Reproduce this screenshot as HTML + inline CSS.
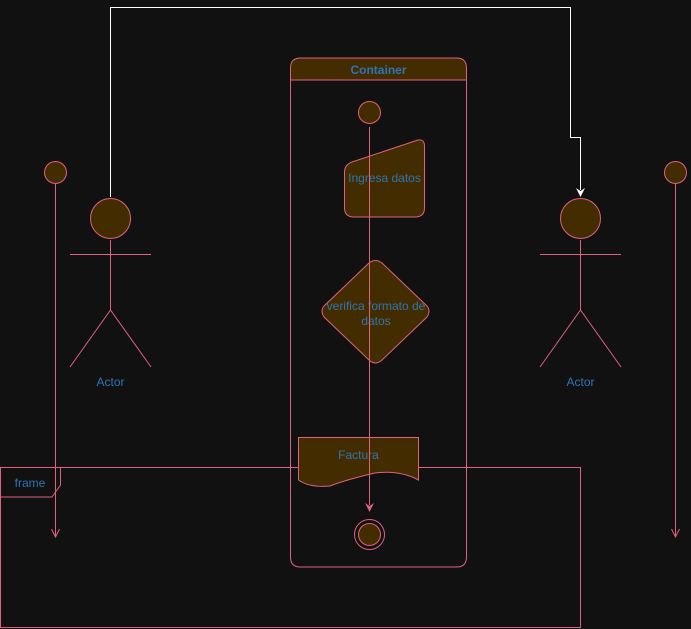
<!DOCTYPE html>
<html><head><meta charset="utf-8"><style>
html,body{margin:0;padding:0;background:#111111;}
svg{display:block;font-family:"Liberation Sans",Arial,sans-serif;}
</style></head><body>
<svg width="691" height="629" viewBox="0 0 691 629">
<defs>
<marker id="arrW" markerWidth="10" markerHeight="10" refX="5" refY="8" orient="auto-start-reverse" markerUnits="userSpaceOnUse"><path d="M1,1 L5,9 L9,1 L5,3 Z" fill="#ffffff"/></marker>
</defs>
<rect width="691" height="629" fill="#111111"/>

<g>
<rect x="0.5" y="467.5" width="580" height="160" fill="none" stroke="#e06080"/>
<path d="M0.5,467.5 H60.5 V485 L52,497 H0.5 Z" fill="#111111" stroke="#e06080"/>
<text x="30" y="487" font-size="12" fill="#2f74b0" text-anchor="middle">frame</text>
</g>

<g>
<path d="M290.5,80 V557 Q290.5,567 300.5,567 H456.5 Q466.5,567 466.5,557 V80" fill="none" stroke="#e06080"/>
<path d="M290.5,80 V68 Q290.5,58 300.5,58 H456.5 Q466.5,58 466.5,68 V80 Z" fill="#432d00" stroke="#e06080"/>
<text x="378.5" y="74" font-size="12" font-weight="bold" fill="#2f74b0" text-anchor="middle">Container</text>
</g>

<g><circle cx="369.5" cy="112.5" r="11" fill="#432d00" stroke="#e06080"/></g>

<g>
<path d="M352,162 L418,140 Q424.5,139 424.5,146 V208 Q424.5,217 415,217 H354 Q344.5,217 344.5,208 V172 Q344.5,165 352,162 Z" fill="#432d00" stroke="#e06080"/>
<text x="384.5" y="182" font-size="12" fill="#2f74b0" text-anchor="middle">Ingresa datos</text>
</g>

<g>
<path d="M369,263 Q375.5,258 382,263 L427,306 Q431,311 427,317 L382,360 Q375.5,366 369,360 L324,317 Q320,311 324,306 Z" fill="#432d00" stroke="#e06080"/>
<text x="376" y="310" font-size="12" fill="#2f74b0" text-anchor="middle">verifica formato de</text>
<text x="376" y="325" font-size="12" fill="#2f74b0" text-anchor="middle">datos</text>
</g>

<g>
<path d="M298.5,437.5 H418.5 V480 Q400,470 375,473 Q345,480 330,486 Q310,488 298.5,480 Z" fill="#432d00" stroke="#e06080"/>
<text x="358.5" y="459" font-size="12" fill="#2f74b0" text-anchor="middle">Factura</text>
</g>

<g>
<line x1="369.5" y1="127" x2="369.5" y2="505" stroke="#e06080"/>
<path d="M365,503 L369.5,512 L374,503 L369.5,506 Z" fill="#e06080"/>
</g>

<g>
<circle cx="369.5" cy="534.5" r="15" fill="none" stroke="#e06080"/>
<circle cx="369.5" cy="534.5" r="11" fill="#432d00" stroke="#e06080"/>
</g>

<g stroke="#e06080" fill="none">
<line x1="110.5" y1="240" x2="110.5" y2="310"/>
<line x1="70" y1="254.5" x2="151" y2="254.5"/>
<polyline points="70,367 110.5,310 151,367"/>
<circle cx="110.5" cy="218.5" r="20" fill="#432d00"/>
<text x="110.5" y="386" font-size="12" fill="#2f74b0" stroke="none" text-anchor="middle">Actor</text>
</g>

<g stroke="#e06080" fill="none">
<line x1="580.5" y1="240" x2="580.5" y2="310"/>
<line x1="540" y1="254.5" x2="621" y2="254.5"/>
<polyline points="540,367 580.5,310 621,367"/>
<circle cx="580.5" cy="218.5" r="20" fill="#432d00"/>
<text x="580.5" y="386" font-size="12" fill="#2f74b0" stroke="none" text-anchor="middle">Actor</text>
</g>

<g>
<polyline points="110.5,197 110.5,7.5 570.5,7.5 570.5,137.5 580.5,137.5 580.5,190" fill="none" stroke="#ffffff"/>
<path d="M576,188 L580.5,197 L585,188 L580.5,191 Z" fill="#ffffff"/>
</g>

<g stroke="#e06080" fill="none">
<line x1="55.5" y1="183" x2="55.5" y2="537"/>
<polyline points="51.5,529 55.5,537 59.5,529"/>
<circle cx="55.5" cy="172.5" r="11" fill="#432d00"/>
</g>

<g stroke="#e06080" fill="none">
<line x1="675.5" y1="183" x2="675.5" y2="537"/>
<polyline points="671.5,529 675.5,537 679.5,529"/>
<circle cx="675.5" cy="172.5" r="11" fill="#432d00"/>
</g>
</svg>
</body></html>
